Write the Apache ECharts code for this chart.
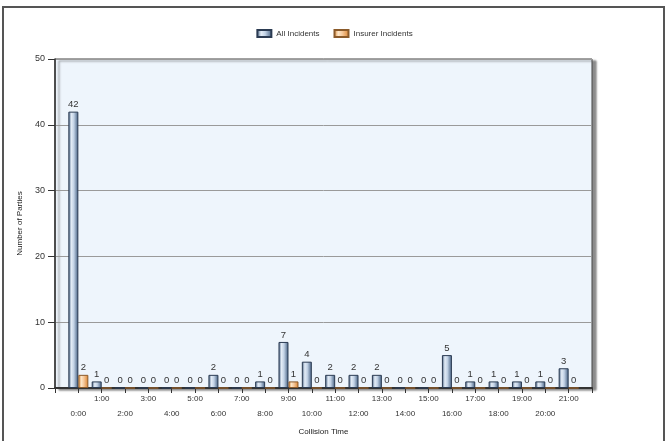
<!DOCTYPE html>
<html>
<head>
<meta charset="utf-8">
<script src="https://cdn.jsdelivr.net/npm/echarts@6/dist/echarts.min.js"></script>
<style>html,body{margin:0;padding:0;background:#fff}#c{width:669px;height:441px}</style>
</head>
<body>
<div id="c"></div>
<script>
const hours = ['0:00','1:00','2:00','3:00','4:00','5:00','6:00','7:00','8:00','9:00','10:00',
  '11:00','12:00','13:00','14:00','15:00','16:00','17:00','18:00','19:00','20:00','21:00'];
const allIncidents = [42,1,0,0,0,0,2,0,1,7,4,2,2,2,0,0,5,1,1,1,1,3];
const insurerIncidents = [2,0,0,0,0,0,0,0,0,1,0,0,0,0,0,0,0,0,0,0,0,0];
const yTicks = [0,10,20,30,40,50];

// padded categories (empty slot at each end, as in the reference axis)
const cats = [''].concat(hours, ['']);
const pad = arr => ['-'].concat(arr, ['-']);

const grad = (edge, mid1, mid2) => new echarts.graphic.LinearGradient(0,0,1,0,[
  {offset:0,color:edge},{offset:0.3,color:mid1},{offset:0.55,color:mid2},{offset:1,color:edge}]);

const chart = echarts.init(document.getElementById('c'), null, {renderer:'canvas'});
const font = 'Liberation Sans, Arial, sans-serif';
chart.setOption({
  animation:false,
  textStyle:{fontFamily:font},
  graphic:[{type:'rect',shape:{x:3,y:7,width:661,height:440},style:{fill:'none',stroke:'#555',lineWidth:2},silent:true}],
  legend:{top:24,left:'center',itemWidth:14,itemHeight:7,itemGap:14,icon:'rect',
    textStyle:{fontSize:8,color:'#333',fontFamily:font},
    data:['All Incidents','Insurer Incidents']},
  grid:{left:55,right:77,top:59,bottom:52,show:true,backgroundColor:'#EEF5FC',
    borderColor:'#444',borderWidth:1,shadowColor:'rgba(0,0,0,0.45)',shadowBlur:2,shadowOffsetX:4,shadowOffsetY:2},
  xAxis:{type:'category',data:cats,boundaryGap:false,
    name:'Collision Time',nameLocation:'middle',nameGap:40,
    nameTextStyle:{fontSize:8,color:'#222',fontFamily:font},
    axisLine:{lineStyle:{color:'#333',width:2}},
    axisTick:{show:true,interval:0,length:5,lineStyle:{color:'#333',width:1}},
    axisLabel:{interval:0,fontSize:8,color:'#333',margin:3,lineHeight:15,
      formatter:(v,i)=>{ if(!v) return ''; const h=parseInt(v); return (h%2===0)?('\n'+v):v; }},
    splitLine:{show:false}},
  yAxis:{type:'value',min:yTicks[0],max:yTicks[yTicks.length-1],interval:10,
    name:'Number of Parties',nameLocation:'middle',nameGap:31,
    nameTextStyle:{fontSize:8,color:'#222',fontFamily:font},
    axisLine:{show:true,lineStyle:{color:'#333',width:1.5}},
    axisTick:{show:true,length:7,lineStyle:{color:'#333'}},
    axisLabel:{fontSize:9,color:'#333',margin:10},
    splitLine:{show:true,lineStyle:{color:'#9a9a9a',width:1}}},
  series:[
    {name:'All Incidents',type:'bar',data:pad(allIncidents),barWidth:10,barGap:'0%',
      itemStyle:{color:grad('#3f5b7e','#e3ecf6','#c3d3e6'),borderColor:'#2b3b52',borderWidth:1},
      label:{show:true,position:'top',distance:2,fontSize:9.5,color:'#333'}},
    {name:'Insurer Incidents',type:'bar',data:pad(insurerIncidents),barWidth:10,barGap:'0%',
      itemStyle:{color:grad('#d9812c','#fde6c8','#f6c89a'),borderColor:'#8a5a2a',borderWidth:1},
      label:{show:true,position:'top',distance:2,fontSize:9.5,color:'#333'}}
  ]
});
</script>
</body>
</html>
